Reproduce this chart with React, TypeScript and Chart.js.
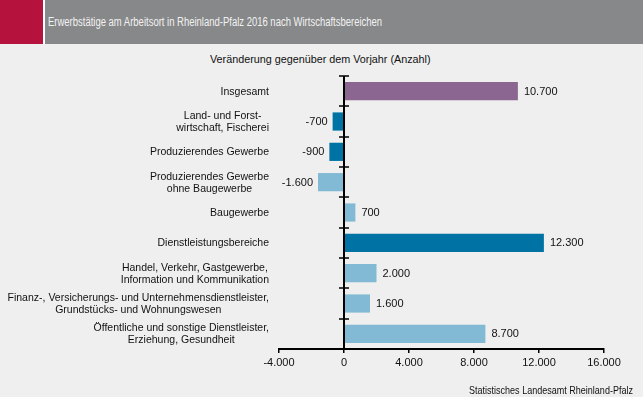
import React, { useEffect, useRef } from "react";
import { Chart, registerables } from "chart.js";

Chart.register(...registerables);

const titleText = "Erwerbstätige am Arbeitsort in Rheinland-Pfalz 2016 nach Wirtschaftsbereichen";
const subtitleText = "Veränderung gegenüber dem Vorjahr (Anzahl)";
const sourceText = "Statistisches Landesamt Rheinland-Pfalz";

const categories: string[][] = [
  ["Insgesamt"],
  ["Land- und Forst-", "wirtschaft, Fischerei"],
  ["Produzierendes Gewerbe"],
  ["Produzierendes Gewerbe", "ohne Baugewerbe"],
  ["Baugewerbe"],
  ["Dienstleistungsbereiche"],
  ["Handel, Verkehr, Gastgewerbe,", "Information und Kommunikation"],
  ["Finanz-, Versicherungs- und Unternehmensdienstleister,", "Grundstücks- und Wohnungswesen"],
  ["Öffentliche und sonstige Dienstleister,", "Erziehung, Gesundheit"],
];

const values = [10700, -700, -900, -1600, 700, 12300, 2000, 1600, 8700];

const PURPLE = "#8B6690";
const DARK = "#0072A3";
const LIGHT = "#82B9D4";
const barColors = [PURPLE, DARK, DARK, LIGHT, LIGHT, DARK, LIGHT, LIGHT, LIGHT];

const xTickValues = [-4000, 0, 4000, 8000, 12000, 16000];
const xMin = -4000;
const xMax = 16000;

const FONT = "'Liberation Sans', Arial, sans-serif";

const fmt = (v: number) => {
  const s = Math.abs(v).toString().replace(/\B(?=(\d{3})+(?!\d))/g, ".");
  return (v < 0 ? "-" : "") + s;
};

const overlayPlugin = {
  id: "overlay",
  afterDatasetsDraw(chart: any) {
    const { ctx, scales, chartArea } = chart;
    const x = scales.x;
    const y = scales.y;
    const x0 = Math.round(x.getPixelForValue(0));
    ctx.save();
    // zero axis
    ctx.strokeStyle = "#000";
    ctx.lineWidth = 2;
    ctx.beginPath();
    ctx.moveTo(x0, chartArea.top);
    ctx.lineTo(x0, chartArea.bottom);
    ctx.stroke();
    // category ticks
    const n = categories.length;
    const step = (chartArea.bottom - chartArea.top) / n;
    ctx.lineWidth = 1.5;
    ctx.beginPath();
    for (let i = 0; i < n; i++) {
      const yy = Math.round(y.getPixelForValue(i) - step / 2);
      ctx.moveTo(x0 - 5, yy);
      ctx.lineTo(x0 + 5, yy);
    }
    ctx.stroke();
    // value labels
    ctx.font = `11px ${FONT}`;
    ctx.fillStyle = "#111";
    ctx.textBaseline = "middle";
    const meta = chart.getDatasetMeta(0);
    meta.data.forEach((bar: any, i: number) => {
      const v = values[i];
      if (v < 0) {
        ctx.textAlign = "right";
        ctx.fillText(fmt(v), bar.x - 5, bar.y + 0.5);
      } else {
        ctx.textAlign = "left";
        ctx.fillText(fmt(v), bar.x + 6, bar.y + 0.5);
      }
    });
    // category labels
    ctx.font = `10.5px ${FONT}`;
    const right = chartArea.left - 10;
    categories.forEach((lines, i) => {
      const cy = y.getPixelForValue(i);
      const widths = lines.map((l) => ctx.measureText(l).width);
      const maxW = Math.max(...widths);
      lines.forEach((line, j) => {
        const ly = cy + (j - (lines.length - 1) / 2) * 12 + 0.5;
        ctx.textAlign = "center";
        ctx.fillText(line, right - maxW / 2, ly);
      });
    });
    ctx.restore();
  },
};

export default function App() {
  const canvasRef = useRef<HTMLCanvasElement | null>(null);

  useEffect(() => {
    document.body.style.margin = "0";
    const canvas = canvasRef.current;
    if (!canvas) return;
    const chart = new Chart(canvas, {
      type: "bar",
      data: {
        labels: categories.map((c) => c.join(" ")),
        datasets: [
          {
            data: values,
            backgroundColor: barColors,
            borderWidth: 0,
            barPercentage: 0.6,
            categoryPercentage: 1,
          },
        ],
      },
      options: {
        indexAxis: "y",
        animation: false,
        responsive: false,
        maintainAspectRatio: false,
        layout: { padding: { top: 76, bottom: 28, right: 39, left: 0 } },
        plugins: {
          legend: { display: false },
          tooltip: { enabled: false },
          title: { display: false },
        },
        scales: {
          x: {
            min: xMin,
            max: xMax,
            afterBuildTicks: (s: any) => {
              s.ticks = xTickValues.map((v) => ({ value: v }));
            },
            afterFit: (s: any) => {
              s.height = 20;
            },
            ticks: {
              autoSkip: false,
              maxRotation: 0,
              padding: 3,
              color: "#111",
              font: { family: FONT, size: 11 },
              callback: (v: any) => fmt(Number(v)),
            },
            grid: {
              drawOnChartArea: false,
              drawTicks: true,
              tickLength: 4,
              color: "#000",
              lineWidth: 1.5,
            },
            border: { display: true, color: "#000", width: 2 },
          },
          y: {
            afterFit: (s: any) => {
              s.width = 279;
            },
            ticks: { display: false },
            grid: { display: false, drawTicks: false },
            border: { display: false },
          },
        },
      },
      plugins: [overlayPlugin],
    });
    return () => chart.destroy();
  }, []);

  return (
    <div
      style={{
        position: "absolute",
        left: 0,
        top: 0,
        width: 643,
        height: 397,
        background: "#EEEFEE",
        overflow: "hidden",
      }}
    >
      <div style={{ position: "absolute", left: 0, top: 0, width: 43, height: 44, background: "#B5123E" }} />
      <div style={{ position: "absolute", left: 43, top: 0, width: 2, height: 44, background: "#FFFFFF" }} />
      <div
        style={{
          position: "absolute",
          left: 45,
          top: 0,
          width: 598,
          height: 44,
          background: "#878889",
        }}
      />
      <span
        style={{
          position: "absolute",
          left: 48,
          top: 0,
          display: "inline-block",
          color: "#F2F2F2",
          fontFamily: FONT,
          fontSize: 12,
          lineHeight: "44px",
          whiteSpace: "nowrap",
          transform: "scaleX(0.79)",
          transformOrigin: "left center",
        }}
      >
        {titleText}
      </span>
      <span
        style={{
          position: "absolute",
          left: 210,
          top: 52,
          fontFamily: FONT,
          fontSize: 11,
          lineHeight: "14px",
          color: "#111",
          whiteSpace: "nowrap",
          display: "inline-block",
          transform: "scaleX(0.98)",
          transformOrigin: "left center",
        }}
      >
        {subtitleText}
      </span>
      <canvas
        ref={canvasRef}
        width={643}
        height={397}
        style={{ position: "absolute", left: 0, top: 0, width: 643, height: 397 }}
      />
      <span
        style={{
          position: "absolute",
          left: 469,
          top: 383,
          fontFamily: FONT,
          fontSize: 11,
          lineHeight: "14px",
          color: "#111",
          whiteSpace: "nowrap",
          display: "inline-block",
          transform: "scaleX(0.82)",
          transformOrigin: "left center",
        }}
      >
        {sourceText}
      </span>
    </div>
  );
}
